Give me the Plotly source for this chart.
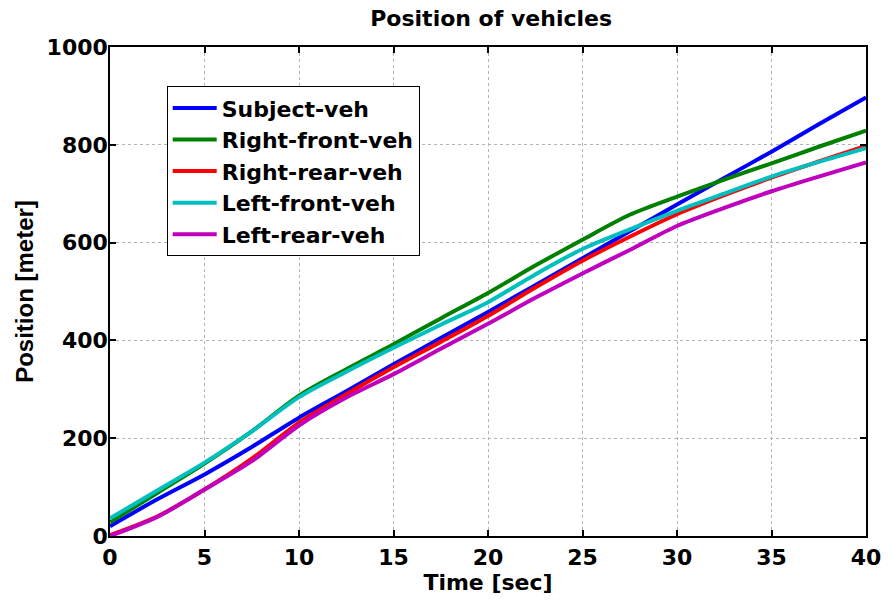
import plotly.graph_objects as go

# Time samples [sec]
time_s = [0, 2.5, 5, 7.5, 10, 12.5, 15, 17.5, 20, 22.5, 25, 27.5, 30, 32.5, 35, 37.5, 40]

# Position of each vehicle [meter]
subject_veh = [20, 75, 126, 182, 242, 296, 351, 405, 458, 513, 568, 623, 678, 732, 786, 842, 897]
right_front_veh = [28, 88, 148, 214, 287, 341, 392, 445, 497, 553, 606, 657, 694, 729, 762, 796, 829]
right_rear_veh = [2, 40, 95, 158, 232, 290, 345, 397, 450, 508, 563, 612, 658, 697, 733, 766, 798]
left_front_veh = [36, 93, 150, 214, 284, 336, 385, 432, 478, 535, 587, 627, 665, 700, 735, 765, 793]
left_rear_veh = [0, 39, 95, 153, 226, 283, 331, 383, 434, 487, 537, 585, 634, 671, 705, 735, 764]

series_names = ["Subject-veh", "Right-front-veh", "Right-rear-veh", "Left-front-veh", "Left-rear-veh"]
series_values = [subject_veh, right_front_veh, right_rear_veh, left_front_veh, left_rear_veh]
series_colors = ["#0000FF", "#008000", "#FF0000", "#00BFBF", "#BF00BF"]

x_ticks = [0, 5, 10, 15, 20, 25, 30, 35, 40]
y_ticks = [0, 200, 400, 600, 800, 1000]

FONT_H = "DejaVu Sans"
FONT_V = "Liberation Sans, Arial, sans-serif"

fig = go.Figure()
for name, vals, color in zip(series_names, series_values, series_colors):
    fig.add_trace(go.Scatter(
        x=time_s, y=vals, name=name, mode="lines",
        line=dict(color=color, width=4, shape="spline", smoothing=0.8),
    ))

axis_common = dict(
    showline=True, linecolor="black", linewidth=1.5, mirror="ticks",
    ticks="inside", ticklen=6, tickwidth=1.5, tickcolor="black",
    showgrid=True, gridcolor="#b4b4b4", griddash="dot", gridwidth=1,
    zeroline=False,
    tickfont=dict(family=FONT_H, size=22, color="black", weight="bold"),
)

fig.update_xaxes(
    range=[0, 40], tickvals=x_ticks, ticktext=[str(v) for v in x_ticks],
    ticklabelstandoff=1,
    title=dict(text="Time [sec]", standoff=2,
               font=dict(family=FONT_H, size=22, color="black", weight="bold")),
    **axis_common,
)
fig.update_yaxes(
    range=[0, 1000], tickvals=y_ticks, ticktext=[str(v) for v in y_ticks],
    ticklabelstandoff=-4,
    title=dict(text="Position [meter]", standoff=6,
               font=dict(family=FONT_V, size=24, color="black", weight="bold")),
    **axis_common,
)

fig.update_layout(
    width=893, height=600, autosize=False,
    margin=dict(l=110, r=21, t=47, b=61),
    paper_bgcolor="white", plot_bgcolor="white",
    title=dict(
        text="Position of vehicles", x=0.55, xanchor="center",
        y=1 - 18 / 600, yanchor="middle", yref="container",
        font=dict(family=FONT_H, size=22, color="black", weight="bold"),
    ),
    legend=dict(
        x=0.075, y=0.92, xanchor="left", yanchor="top",
        bgcolor="white", bordercolor="black", borderwidth=1,
        font=dict(family=FONT_H, size=22, color="black", weight="bold"),
        itemwidth=44, tracegroupgap=0,
    ),
    showlegend=True,
)

fig.write_html("out.html")
